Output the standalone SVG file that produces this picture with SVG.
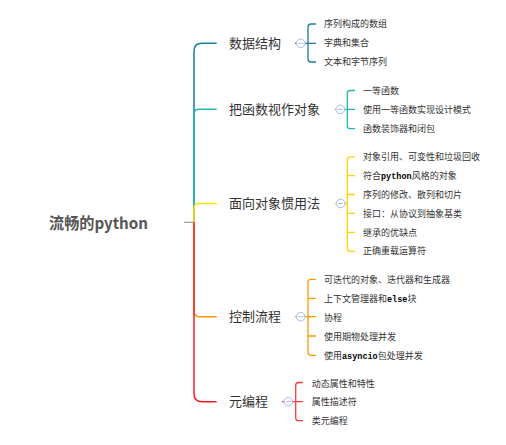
<svg xmlns="http://www.w3.org/2000/svg" width="506" height="445" viewBox="0 0 506 445">
<style>
.c{fill:none;stroke-width:1.5;stroke-linecap:butt}
.s{fill:none;stroke-width:1.3}
.t1{font-family:"Noto Sans CJK SC","Noto Sans",sans-serif;font-size:13px;fill:#333}
.t2{font-family:"Noto Sans CJK SC","Noto Sans",sans-serif;font-size:9px;fill:#333}
.m{font-family:"Liberation Mono",monospace;font-weight:bold;font-size:8.5px;fill:#000}
.btn circle{fill:#fff;stroke:#a9b9ec;stroke-width:1}
.btn line{stroke:#a9b9ec;stroke-width:1}
</style>
<rect width="506" height="445" fill="#fff"/>
<g id="connectors">
<path d="M184,222.3 H194" stroke="#888" stroke-width="1" fill="none"/>
<path class="c" stroke="#1a7b9c" d="M194,222 V51 Q194,43.3 202,43.3 H216.7"/>
<path class="c" stroke="#22b8ae" d="M194,222 V114 Q194,109.3 199,109.3 H216.7"/>
<path class="c" stroke="#ffe100" d="M194,222.3 V208 Q194,203.5 199,203.5 H216.7"/>
<path class="c" stroke="#ff9a00" d="M194,222.3 V311 Q194,316.7 199.5,316.7 H216.7"/>
<path class="c" stroke="#ff1a1a" d="M194,222.3 V394 Q194,401.7 202,401.7 H216.7"/>
</g>
<g id="root"><text x="49" y="228.5" font-family="'Noto Sans CJK SC','Noto Sans',sans-serif" font-size="15.5" font-weight="bold" fill="#555" textLength="99" lengthAdjust="spacingAndGlyphs">流畅的python</text></g>

<g id="b1">
<text class="t1" x="229" y="47.8">数据结构</text>
<path class="s" stroke="#1a7b9c" d="M295,43.3 H316 M316,24 H311 Q308,24 308,27 V59 Q308,62 311,62 H316"/>
<g class="btn"><circle cx="300.7" cy="43.3" r="4.3"/><line x1="298.3" y1="43.3" x2="303.1" y2="43.3"/></g>
<text class="t2" x="324" y="27.3">序列构成的数组</text>
<text class="t2" x="324" y="46.4">字典和集合</text>
<text class="t2" x="324" y="65.3">文本和字节序列</text>
</g>

<g id="b2">
<text class="t1" x="229" y="113.8">把函数视作对象</text>
<path class="s" stroke="#22b8ae" d="M335,109.3 H355 M355,90.5 H350.3 Q347.3,90.5 347.3,93.5 V125.7 Q347.3,128.7 350.3,128.7 H355"/>
<g class="btn"><circle cx="340.3" cy="109.3" r="4.3"/><line x1="337.9" y1="109.3" x2="342.7" y2="109.3"/></g>
<text class="t2" x="363" y="93.8">一等函数</text>
<text class="t2" x="363" y="112.9">使用一等函数实现设计模式</text>
<text class="t2" x="363" y="132">函数装饰器和闭包</text>
</g>

<g id="b3">
<text class="t1" x="229" y="208.3">面向对象惯用法</text>
<path class="s" stroke="#ffd200" d="M335,203.5 H347.3 M355,156.8 H350.3 Q347.3,156.8 347.3,159.8 V248.3 Q347.3,251.3 350.3,251.3 H355 M347.3,175.7 H355 M347.3,194.5 H355 M347.3,213.4 H355 M347.3,232.3 H355"/>
<g class="btn"><circle cx="340.7" cy="203.5" r="4.3"/><line x1="338.3" y1="203.5" x2="343.1" y2="203.5"/></g>
<text class="t2" x="363" y="160.3">对象引用、可变性和垃圾回收</text>
<text class="t2" x="363" y="179">符合<tspan class="m">python</tspan>风格的对象</text>
<text class="t2" x="363" y="197.7">序列的修改、散列和切片</text>
<text class="t2" x="363" y="216.6">接口：从协议到抽象基类</text>
<text class="t2" x="363" y="235.5">继承的优缺点</text>
<text class="t2" x="363" y="254.4">正确重载运算符</text>
</g>

<g id="b4">
<text class="t1" x="229" y="321.2">控制流程</text>
<path class="s" stroke="#ff9a00" d="M295,316.7 H316 M316,279.4 H311 Q308,279.4 308,282.4 V352.3 Q308,355.3 311,355.3 H316 M308,298.3 H316 M308,336 H316"/>
<g class="btn"><circle cx="300.7" cy="316.7" r="4.3"/><line x1="298.3" y1="316.7" x2="303.1" y2="316.7"/></g>
<text class="t2" x="324" y="282.9">可迭代的对象、迭代器和生成器</text>
<text class="t2" x="324" y="301.9">上下文管理器和<tspan class="m">else</tspan>块</text>
<text class="t2" x="324" y="320.9">协程</text>
<text class="t2" x="324" y="339.6">使用期物处理并发</text>
<text class="t2" x="324" y="358.5">使用<tspan class="m">asyncio</tspan>包处理并发</text>
</g>

<g id="b5">
<text class="t1" x="229" y="406.2">元编程</text>
<path class="s" stroke="#ff3b3b" d="M282,401.7 H303 M303,382.5 H298.7 Q295.7,382.5 295.7,385.5 V417.7 Q295.7,420.7 298.7,420.7 H303"/>
<g class="btn"><circle cx="288.3" cy="401.7" r="4.3"/><line x1="285.9" y1="401.7" x2="290.7" y2="401.7"/></g>
<text class="t2" x="311.7" y="386.9">动态属性和特性</text>
<text class="t2" x="311.7" y="405.2">属性描述符</text>
<text class="t2" x="311.7" y="423.9">类元编程</text>
</g>
</svg>
